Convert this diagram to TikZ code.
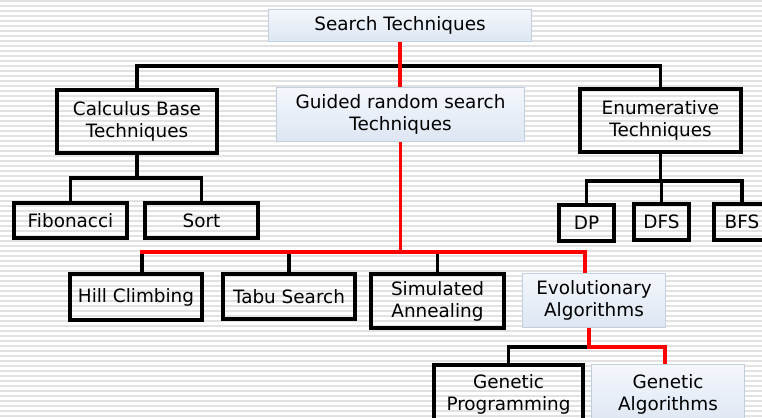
\documentclass[tikz,border=0pt]{standalone}
\usepackage{fontspec}
\setmainfont{DejaVu Sans}
\definecolor{stripegray}{RGB}{226,226,226}
\definecolor{boxedge}{RGB}{194,207,223}
\definecolor{boxtop}{RGB}{244,247,252}
\definecolor{boxbottom}{RGB}{221,230,242}

\tikzset{every picture/.style={line width=0.75pt}}
\tikzset{
  nodetext/.style={inner sep=0pt, align=center, font=\fontsize{13.8}{16.5}\selectfont},
  thickbox/.style={nodetext, draw, line width=3pt},
  lightbox/.style={nodetext, draw=boxedge, line width=0.75pt, top color=boxtop, bottom color=boxbottom},
  blackline/.style={line width=2.6pt},
  redline/.style={draw=red, line width=2.8pt}
}

\begin{document}
\begin{tikzpicture}[x=0.75pt,y=0.75pt,yscale=-1,xscale=1]
\useasboundingbox (0,0) rectangle (762,417);

%Background stripes
\foreach \y in {1,6,...,416} \draw[stripegray, line width=1.4pt] (0,\y) -- (762,\y);

%Shape: Rectangle [search]
\node[lightbox, minimum width=197.25pt, minimum height=24pt] (search) at (400,25.5) {Search Techniques};
%Shape: Rectangle [guided]
\node[lightbox, minimum width=186pt, minimum height=40.5pt] (guided) at (400.5,114.5) {Guided random search\\Techniques};
%Shape: Rectangle [calc]
\node[thickbox, minimum width=120pt, minimum height=47.25pt] (calc) at (137,121.5) {Calculus Base\\Techniques};
%Shape: Rectangle [enum]
\node[thickbox, minimum width=120.75pt, minimum height=47.25pt] (enum) at (660.5,120.5) {Enumerative\\Techniques};

%Shape: Rectangle [fib, sort]
\node[thickbox, minimum width=84.75pt, minimum height=26.25pt] (fib) at (70.5,220.5) {Fibonacci};
\node[thickbox, minimum width=84.75pt, minimum height=26.25pt] (sort) at (201.5,220.5) {Sort};
%Shape: Rectangle [dp, dfs, bfs]
\node[thickbox, minimum width=41.25pt, minimum height=27pt] (dp) at (586.5,223) {DP};
\node[thickbox, minimum width=41.25pt, minimum height=27pt] (dfs) at (661.5,222) {DFS};
\node[thickbox, minimum width=42pt, minimum height=27pt] (bfs) at (742,222) {BFS};

%Shape: Rectangle [hill, tabu, sim, evo]
\node[thickbox, minimum width=99pt, minimum height=34.5pt] (hill) at (136,297) {Hill Climbing};
\node[thickbox, minimum width=99pt, minimum height=33.75pt] (tabu) at (289,296.5) {Tabu Search};
\node[thickbox, minimum width=99.75pt, minimum height=40.5pt] (sim) at (437.5,301) {Simulated\\Annealing};
\node[lightbox, minimum width=107.25pt, minimum height=40.5pt] (evo) at (594,300.5) {Evolutionary\\Algorithms};

%Shape: Rectangle [gp, ga]
\node[thickbox, minimum width=111.75pt, minimum height=43.5pt] (gp) at (508.5,394) {Genetic\\Programming};
\node[lightbox, minimum width=114.75pt, minimum height=45.75pt] (ga) at (668,394.5) {Genetic\\Algorithms};

%Forks
\coordinate (topfork) at (400,66);
\coordinate (calcfork) at (138,178);
\coordinate (enumfork) at (660,181);
\coordinate (guidedfork) at (400,252);
\coordinate (evofork) at (589,347);
\coordinate (hilltop) at ([xshift=4.5pt]hill.north);

%Straight Lines [black]
\draw[blackline] (calc.north) -- (calc.north |- topfork) -| (enum.north);
\draw[blackline] (calc.south) -- (calc.south |- calcfork);
\draw[blackline] (fib.north) |- (calcfork) -| (sort.north);
\draw[blackline] (enum.south) -- (enum.south |- enumfork);
\draw[blackline] (dp.north) |- (enumfork) -| (bfs.north);
\draw[blackline] (dfs.north) -- (dfs.north |- enumfork);
\draw[blackline] (hilltop) -- (hilltop |- guidedfork);
\draw[blackline] (tabu.north) -- (tabu.north |- guidedfork);
\draw[blackline] (sim.north) -- (sim.north |- guidedfork);
\draw[blackline] (gp.north) |- (evofork);

%Straight Lines [red]
\draw[redline] (search.south) -- (search.south |- guided.north);
\draw[redline] (guided.south) -- (guided.south |- guidedfork);
\draw[redline] ([xshift=-1.5pt]hilltop |- guidedfork) -| ([xshift=-6.75pt]evo.north);
\draw[redline] ([xshift=-3.75pt]evo.south) -- (evofork) -| ([xshift=-2.25pt]ga.north);

\end{tikzpicture}
\end{document}
